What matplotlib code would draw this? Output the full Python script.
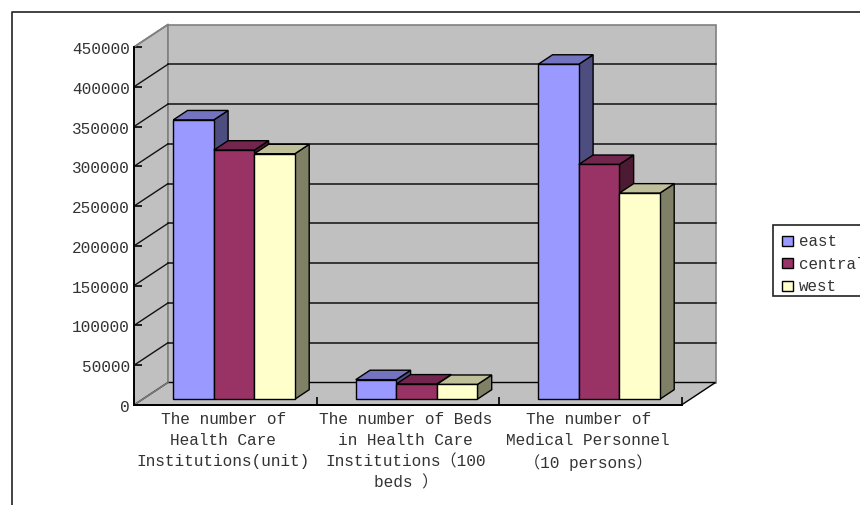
import matplotlib
matplotlib.use('Agg')
import matplotlib.pyplot as plt
from matplotlib.patches import Polygon, Rectangle
from matplotlib.transforms import Affine2D

categories = ['The number of\nHealth Care\nInstitutions(unit)',
              'The number of Beds\nin Health Care\nInstitutions（100\nbeds ）',
              'The number of\nMedical Personnel\n（10 persons）']
series = ['east', 'central', 'west']
east = [351000, 24500, 421000]
central = [313000, 19000, 295000]
west = [308500, 18500, 259000]
y_ticks = [0, 50000, 100000, 150000, 200000, 250000, 300000, 350000, 400000, 450000]

front = ['#9999FF', '#993366', '#FFFFCC']
top = ['#7373BF', '#73264D', '#BFBF99']
side = ['#4D4D80', '#4D1A33', '#808066']
font = ['Liberation Mono', 'Noto Sans CJK SC']
text_col = '#333333'

W, H = 860, 506
fig = plt.figure(figsize=(W / 100, H / 100), dpi=100)

# front plane of the plot, in pixels
left, right, bottom, ceil = 134, 681.5, 406, 48
ax = fig.add_axes([left / W, 1 - bottom / H, (right - left) / W, (bottom - ceil) / H])
ax.set_xlim(0, 3)
ax.set_ylim(0, 450000)
ax.patch.set_visible(False)

DX, DY = 34, 22.5


def depth(d):
    return ax.transData + Affine2D().translate(DX * d, DY * d)


def to_front(x, y, d):
    # point at depth d, written back in data coordinates of the front plane
    return ax.transData.inverted().transform(depth(d).transform((x, y)))


# walls
ymax = y_ticks[-1]
ax.add_patch(Polygon([to_front(0, 0, 0), to_front(0, ymax, 0), to_front(0, ymax, 1), to_front(0, 0, 1)],
                     fc='#C0C0C0', ec='#808080', lw=1.2, clip_on=False, zorder=1))
ax.add_patch(Rectangle((0, 0), 3, ymax, transform=depth(1), fc='#C0C0C0', ec='#808080', lw=1.2,
                       clip_on=False, zorder=1))
ax.add_patch(Polygon([to_front(0, 0, 0), to_front(3, 0, 0), to_front(3, 0, 1), to_front(0, 0, 1)],
                     fc='#C0C0C0', ec='black', lw=1, clip_on=False, zorder=1))

# gridlines on the back and side wall
for v in y_ticks[1:-1]:
    ax.plot([0, 3], [v, v], color='#111111', lw=1.1, transform=depth(1), clip_on=False, zorder=2)
for v in y_ticks[:-1]:
    a, b = to_front(0, v, 0), to_front(0, v, 1)
    ax.plot([a[0], b[0]], [a[1], b[1]], color='#111111' if v else '#808080', lw=1, clip_on=False, zorder=2)
a, b = to_front(0, ymax, 0), to_front(0, ymax, 1)
ax.plot([a[0], b[0]], [a[1], b[1]], color='#808080', lw=1.2, clip_on=False, zorder=2)

# bars
bar_w = 2 / 9
near, far = 0.26, 0.68
for i, vals in enumerate([east, central, west]):
    for j, v in enumerate(vals):
        x0 = j + 1 / 6 + i * bar_w
        x1 = x0 + bar_w
        z = 3 + 3 * i
        ax.add_patch(Polygon([to_front(x1, 0, near), to_front(x1, 0, far), to_front(x1, v, far), to_front(x1, v, near)],
                             fc=side[i], ec='black', lw=1, clip_on=False, zorder=z))
        ax.add_patch(Polygon([to_front(x0, v, near), to_front(x1, v, near), to_front(x1, v, far), to_front(x0, v, far)],
                             fc=top[i], ec='black', lw=1, clip_on=False, zorder=z + 1))
        ax.bar(x0, v, width=bar_w, align='edge', color=front[i], edgecolor='black', lw=1,
               transform=depth(near), clip_on=False, zorder=z + 2)

# axes
for s in ['top', 'right']:
    ax.spines[s].set_visible(False)
for s in ['left', 'bottom']:
    ax.spines[s].set_linewidth(1.4)
    ax.spines[s].set_zorder(20)
ax.set_yticks(y_ticks)
ax.set_yticklabels([str(v) for v in y_ticks], family=font, fontsize=11.6, color=text_col)
ax.set_xticks([0, 1, 2, 3])
ax.set_xticklabels([])
ax.tick_params(axis='y', direction='in', length=6, width=1.2, pad=3)
ax.tick_params(axis='x', direction='in', length=6, width=1.2)
for j, name in enumerate(categories):
    ax.annotate(name, (j + 0.5, 0), xytext=(-1.5, -4), textcoords='offset points', ha='center', va='top',
                family=font, fontsize=11.6, color=text_col, linespacing=1.5, annotation_clip=False)

# legend box runs off the right edge of the picture
fig.add_artist(Rectangle((773 / W, 1 - 297 / H), 100 / W, 71 / H, transform=fig.transFigure,
                         fc='white', ec='#222222', lw=1.2, clip_on=True))
for i, name in enumerate(series):
    yc = 1 - (242 + i * 22.3) / H
    fig.add_artist(Rectangle((782 / W, yc - 5 / H), 11 / W, 10 / H, transform=fig.transFigure,
                             fc=front[i], ec='black', lw=1))
    fig.text(799 / W, yc, name, family=font, fontsize=11.4, color=text_col, va='center', ha='left')

# outer frame, only top and left are inside the picture
fig.add_artist(plt.Line2D([12 / W, 12 / W, 1], [0, 1 - 13 / H, 1 - 13 / H], color='#222222', lw=1.2))

fig.savefig('out.png', dpi=100)
